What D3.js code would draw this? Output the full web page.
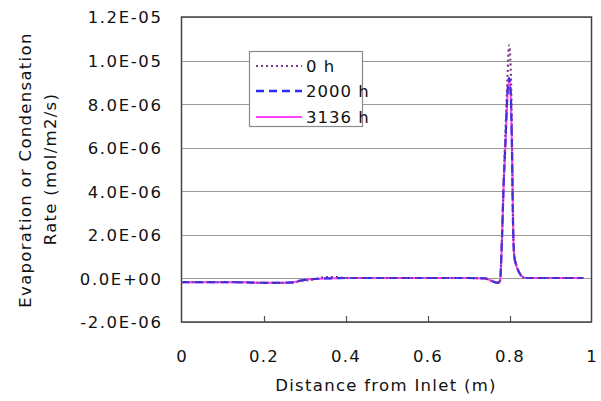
<!DOCTYPE html>
<html><head><meta charset="utf-8">
<script src="https://cdn.jsdelivr.net/npm/d3@7"></script>
<style>
body{margin:0;background:#fff;}
text{font-family:"DejaVu Sans","Liberation Sans",sans-serif;fill:#111;}
</style></head>
<body><svg id="c" width="601" height="401"></svg>
<script>
// Data (rates in units of 1E-06 mol/m2/s)
const distance = [0, 0.05, 0.1, 0.15, 0.2, 0.25, 0.27, 0.29, 0.31, 0.33, 0.35, 0.38, 0.4, 0.5, 0.6, 0.7, 0.74, 0.755, 0.765, 0.772, 0.777, 0.781, 0.786, 0.79, 0.795, 0.799, 0.803, 0.806, 0.809, 0.812, 0.817, 0.823, 0.83, 0.84, 0.9, 0.95, 0.98];
const rate0h    = [-0.17, -0.17, -0.17, -0.18, -0.2, -0.2, -0.2, -0.12, -0.08, -0.02, 0.06, 0.06, 0.02, 0.02, 0.02, 0.02, 0.0, -0.1, -0.18, -0.2, -0.1, 1.5, 4.6, 6.6, 9.2, 10.7, 9.6, 6.6, 2.3, 1.0, 0.6, 0.3, 0.1, 0.02, 0.02, 0.02, 0.02];
const rate2000h = [-0.17, -0.17, -0.17, -0.18, -0.2, -0.2, -0.18, -0.1, -0.04, -0.02, 0.0, 0.01, 0.02, 0.02, 0.02, 0.02, 0.0, -0.1, -0.18, -0.2, -0.1, 1.5, 4.5, 6.2, 8.5, 9.2, 8.5, 6.0, 2.2, 1.0, 0.6, 0.3, 0.1, 0.02, 0.02, 0.02, 0.02];
const rate3136h = [-0.17, -0.17, -0.17, -0.18, -0.2, -0.2, -0.18, -0.1, -0.04, -0.02, 0.0, 0.01, 0.02, 0.02, 0.02, 0.02, 0.0, -0.1, -0.18, -0.2, -0.1, 1.4, 4.4, 6.1, 8.4, 9.1, 8.4, 5.9, 2.1, 0.9, 0.55, 0.28, 0.1, 0.02, 0.02, 0.02, 0.02];
const seriesNames = ["0 h", "2000 h", "3136 h"];
const yTicks = [-2, 0, 2, 4, 6, 8, 10, 12];
const yTickLabels = ["-2.0E-06", "0.0E+00", "2.0E-06", "4.0E-06", "6.0E-06", "8.0E-06", "1.0E-05", "1.2E-05"];
const xTicks = [0, 0.2, 0.4, 0.6, 0.8, 1];
const xTickLabels = ["0", "0.2", "0.4", "0.6", "0.8", "1"];

const svg = d3.select("#c");
const L = 181.5, R = 591.5, T = 17, B = 322;
const x = d3.scaleLinear().domain([0, 1]).range([L, R]);
const y = d3.scaleLinear().domain([-2, 12]).range([B, T]);

// gridlines
svg.append("g").selectAll("line").data(yTicks).join("line")
  .attr("x1", L).attr("x2", R)
  .attr("y1", d => Math.round(y(d)) + 0.5).attr("y2", d => Math.round(y(d)) + 0.5)
  .attr("stroke", "#9a9a9a").attr("stroke-width", 1.2);

// y tick labels
const yAxis = d3.axisLeft(y).tickValues(yTicks).tickSize(0).tickPadding(0)
  .tickFormat((d, i) => yTickLabels[i]);
const gy = svg.append("g").attr("transform", `translate(${L - 19},0)`).call(yAxis);
gy.select(".domain").remove();
gy.selectAll("text").attr("font-size", 16.5).attr("letter-spacing", "1.6px")
  .attr("font-family", "DejaVu Sans").attr("fill", "#111").attr("dy", "0.36em");

// x axis
const xAxis = d3.axisBottom(x).tickValues(xTicks).tickSize(0).tickPadding(0)
  .tickFormat((d, i) => xTickLabels[i]);
const gx = svg.append("g").attr("transform", `translate(0,${B + 40})`).call(xAxis);
gx.select(".domain").remove();
gx.selectAll("text").attr("font-size", 16.5).attr("letter-spacing", "1.2px")
  .attr("font-family", "DejaVu Sans").attr("fill", "#111").attr("dy", "0");
// inward ticks
svg.append("g").selectAll("line").data(xTicks.slice(1, -1)).join("line")
  .attr("x1", d => Math.round(x(d)) + 0.5).attr("x2", d => Math.round(x(d)) + 0.5)
  .attr("y1", B).attr("y2", B - 6).attr("stroke", "#555").attr("stroke-width", 1.2);

// frame
svg.append("rect").attr("x", L).attr("y", T).attr("width", R - L).attr("height", B - T)
  .attr("fill", "none").attr("stroke", "#444").attr("stroke-width", 1.5);

// lines
const mk = vals => d3.line().x((d, i) => x(distance[i])).y(d => y(d)).curve(d3.curveMonotoneX)(vals);
svg.append("path").attr("d", mk(rate3136h)).attr("fill", "none")
  .attr("stroke", "#ff40ff").attr("stroke-width", 2);
svg.append("path").attr("d", mk(rate2000h)).attr("fill", "none")
  .attr("stroke", "#2a2aff").attr("stroke-width", 2.2).attr("stroke-dasharray", "8,5");
svg.append("path").attr("d", mk(rate0h)).attr("fill", "none")
  .attr("stroke", "#7a3a8a").attr("stroke-width", 2.2).attr("stroke-dasharray", "2,3");

// legend
const lg = svg.append("g");
lg.append("rect").attr("x", 249.5).attr("y", 51.5).attr("width", 113).attr("height", 75)
  .attr("fill", "#fff").attr("stroke", "#8a8a8a").attr("stroke-width", 1.2);
const styles = [
  {c: "#7a3a8a", da: "2,3", w: 2.2},
  {c: "#2a2aff", da: "8,5", w: 2.4},
  {c: "#ff40ff", da: null, w: 2}
];
const rowY = [66, 91, 117];
seriesNames.forEach((n, i) => {
  lg.append("line").attr("x1", 256).attr("x2", 302).attr("y1", rowY[i]).attr("y2", rowY[i])
    .attr("stroke", styles[i].c).attr("stroke-width", styles[i].w)
    .attr("stroke-dasharray", styles[i].da);
  lg.append("text").attr("x", 306).attr("y", rowY[i]).attr("dy", "0.36em")
    .attr("font-size", 16.5).attr("letter-spacing", "1px").text(n);
});

// axis titles
svg.append("text").attr("x", 386).attr("y", 391).attr("text-anchor", "middle")
  .attr("font-size", 16.5).attr("letter-spacing", "1.3px").text("Distance from Inlet (m)");
svg.append("text").attr("transform", "translate(31,170) rotate(-90)").attr("text-anchor", "middle")
  .attr("font-size", 16.5).attr("letter-spacing", "1.3px").text("Evaporation or Condensation");
svg.append("text").attr("transform", "translate(56,169) rotate(-90)").attr("text-anchor", "middle")
  .attr("font-size", 16.5).attr("letter-spacing", "1.3px").text("Rate (mol/m2/s)");
</script></body></html>
